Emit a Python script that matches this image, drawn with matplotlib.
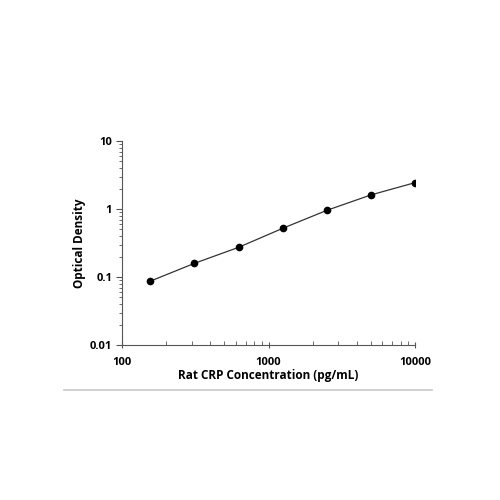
import numpy as np
import matplotlib.pyplot as plt
from matplotlib.lines import Line2D
from matplotlib.ticker import FixedLocator, FixedFormatter, NullFormatter

plt.rcParams['font.family'] = ['Open Sans', 'DejaVu Sans']

# standard curve
conc = [156.25, 312.5, 625, 1250, 2500, 5000, 10000]
od = [0.087, 0.159, 0.273, 0.52, 0.955, 1.61, 2.44]

x_ticks = [100, 1000, 10000]
x_labels = ["100", "1000", "10000"]
y_ticks = [0.01, 0.1, 1, 10]
y_labels = ["0.01", "0.1", "1", "10"]

fig = plt.figure(figsize=(5, 5), dpi=100)
ax = fig.add_axes([0.244, 0.31, 0.586, 0.408])

ax.plot(conc, od, color="#333333", lw=0.9, zorder=2)
ax.plot(conc, od, "o", color="black", ms=4.5, zorder=3)

ax.set_xscale("log")
ax.set_yscale("log")
ax.set_xlim(100, 10000)
ax.set_ylim(0.01, 10)

ax.xaxis.set_major_locator(FixedLocator(x_ticks))
ax.xaxis.set_major_formatter(FixedFormatter(x_labels))
ax.yaxis.set_major_locator(FixedLocator(y_ticks))
ax.yaxis.set_major_formatter(FixedFormatter(y_labels))
ax.xaxis.set_minor_formatter(NullFormatter())
ax.yaxis.set_minor_formatter(NullFormatter())

for s in ["top", "right"]:
    ax.spines[s].set_visible(False)
for s in ["left", "bottom"]:
    ax.spines[s].set_color("#555555")
    ax.spines[s].set_linewidth(0.8)

ax.tick_params(axis="x", which="major", direction="inout", length=5, width=0.8,
               color="#555555", labelsize=8, pad=6)
ax.tick_params(axis="x", which="minor", direction="in", length=3, width=0.6,
               color="#555555")
ax.tick_params(axis="y", which="major", direction="out", length=4, width=0.8,
               color="#555555", labelsize=8, pad=3)
ax.tick_params(axis="y", which="minor", direction="out", length=2, width=0.6,
               color="#555555")
for lab in ax.get_xticklabels() + ax.get_yticklabels():
    lab.set_fontweight("bold")

ax.set_xlabel("Rat CRP Concentration (pg/mL)", fontsize=8.5, fontweight="bold", labelpad=1)
ax.set_ylabel("Optical Density", fontsize=8.5, fontweight="bold", labelpad=3)

# separator line under the chart
fig.add_artist(Line2D([0.128, 0.864], [0.22, 0.22], color="#c8c8c8", lw=1.2))

fig.savefig("out.png", dpi=100, facecolor="white")
